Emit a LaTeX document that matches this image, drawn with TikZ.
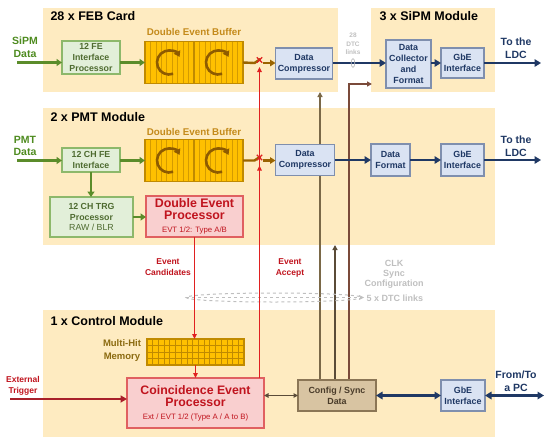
\documentclass[tikz,border=0pt]{standalone}
\usepackage{fontspec}
\setmainfont{Liberation Sans}
\usetikzlibrary{arrows.meta,calc}
\definecolor{panel}{HTML}{FEEBC1}
\definecolor{gfill}{HTML}{E2EFD9}
\definecolor{gdraw}{HTML}{8DB86B}
\definecolor{gtext}{HTML}{4E6B30}
\definecolor{glabel}{HTML}{4E8B1F}
\definecolor{garrow}{HTML}{5B8C2A}
\definecolor{bufill}{HTML}{FFC000}
\definecolor{stripec}{HTML}{D49B00}
\definecolor{budraw}{HTML}{C08A00}
\definecolor{circc}{HTML}{8E5B00}
\definecolor{buflabel}{HTML}{C48A1A}
\definecolor{bfill}{HTML}{DAE3F3}
\definecolor{bdraw}{HTML}{7F8FAE}
\definecolor{navy}{HTML}{1F3864}
\definecolor{rfill}{HTML}{F9CFCF}
\definecolor{rdraw}{HTML}{E06060}
\definecolor{rtext}{HTML}{C0141E}
\definecolor{redline}{HTML}{E02020}
\definecolor{extred}{HTML}{A8202A}
\definecolor{cfill}{HTML}{D8C4A2}
\definecolor{cdraw}{HTML}{8B7656}
\definecolor{ctext}{HTML}{4A3C2A}
\definecolor{lineA}{HTML}{7A6848}
\definecolor{lineB}{HTML}{5A4B38}
\definecolor{lineC}{HTML}{7A4A3A}
\definecolor{brownarr}{HTML}{9A6400}
\definecolor{grayt}{HTML}{BFBFBF}
\definecolor{memlabel}{HTML}{8B6A10}
\pgfdeclarelayer{bg}
\pgfdeclarelayer{mid}
\pgfsetlayers{bg,mid,main}
\tikzset{
  base/.style={draw, rectangle, inner sep=1pt, outer sep=0pt, align=center, line width=1.2pt},
  gbox/.style={base, fill=gfill, draw=gdraw, text=gtext, font=\fontsize{8.8}{10.8}\selectfont\bfseries},
  bbox/.style={base, fill=bfill, draw=bdraw, text=navy, font=\fontsize{8.9}{10.8}\selectfont\bfseries},
  rbox/.style={base, fill=rfill, draw=rdraw, text=rtext},
  cbox/.style={base, fill=cfill, draw=cdraw, text=ctext, font=\fontsize{8.9}{11}\selectfont\bfseries},
  emptybox/.style={rectangle, inner sep=0pt, outer sep=0pt},
  title/.style={anchor=base west, font=\fontsize{12.5}{14}\selectfont\bfseries},
  sidelabel/.style={align=center, font=\fontsize{10.5}{12.5}\selectfont\bfseries},
  buflab/.style={text=buflabel, font=\fontsize{9.8}{11}\selectfont\bfseries},
  grayl/.style={text=grayt, align=center, font=\fontsize{9}{10}\selectfont\bfseries},
  redlab/.style={text=rtext, align=center, font=\fontsize{8.5}{11}\selectfont\bfseries},
  garr/.style={draw=garrow, line width=2.4pt, -{Triangle[length=5.5pt,width=7pt]}},
  narr/.style={draw=navy, line width=2.6pt, -{Triangle[length=6.5pt,width=7.5pt]}},
  nbiarr/.style={draw=navy, line width=2.6pt, {Triangle[length=6.5pt,width=7.5pt]}-{Triangle[length=6.5pt,width=7.5pt]}},
  barr/.style={draw=brownarr, line width=2.4pt, -{Triangle[length=5.5pt,width=6.5pt]}},
  rarr/.style={draw=redline, line width=1.3pt, -{Triangle[length=5pt,width=4.5pt]}},
  stripe/.style={draw=stripec, line width=0.7pt},
  circarrow/.style={draw=circc, line width=2.6pt, -{Triangle[length=5.5pt,width=7pt]}},
}
\newcommand{\bufdraw}[1]{%
  \fill[bufill] (#1.south west) rectangle (#1.north east);
  \foreach \i in {1,...,17}{\draw[stripe] ($(#1.south west)+(\i*5.444,0)$) -- ($(#1.north west)+(\i*5.444,0)$);}
  \draw[draw=budraw, line width=1.5pt] (#1.south) -- (#1.north);
  \draw[draw=budraw, line width=1.2pt] (#1.south west) rectangle (#1.north east);
  \draw[circarrow] ($(#1.center)+(-25,0)$) ++(70:12) arc[start angle=70, end angle=332, radius=12];
  \draw[circarrow] ($(#1.center)+(24,0)$) ++(70:12) arc[start angle=70, end angle=332, radius=12];
}
\newcommand{\redcross}[1]{%
  \draw[redline, line width=1.1pt] ($(#1)+(-2.7,-2.7)$) -- ($(#1)+(2.7,2.7)$);
  \draw[redline, line width=1.1pt] ($(#1)+(-2.7,2.7)$) -- ($(#1)+(2.7,-2.7)$);
}
\begin{document}
\begin{tikzpicture}[x=1pt,y=-1pt]
\useasboundingbox (0,0) rectangle (550,445);
% panels
\begin{pgfonlayer}{bg}
\fill[panel] (43,8) rectangle (338,92);
\fill[panel] (371,8) rectangle (495,92);
\fill[panel] (43,108) rectangle (495,245);
\fill[panel] (43,310) rectangle (495,437);
\end{pgfonlayer}
% titles
\node[title] (t1) at (47,20.5) {28 x FEB Card};
\node[title] (t2) at (376,20.5) {3 x SiPM Module};
\node[title] (t3) at (47,121.5) {2 x PMT Module};
\node[title] (t4) at (47,325.5) {1 x Control Module};
% side labels
\node[sidelabel, text=glabel] (sipm) at (25,47) {SiPM\\Data};
\node[sidelabel, text=glabel] (pmt) at (25,146) {PMT\\Data};
\node[sidelabel, text=navy] (ldc1) at (516,48) {To the\\LDC};
\node[sidelabel, text=navy] (ldc2) at (516,146) {To the\\LDC};
\node[sidelabel, text=navy] (pc) at (516,381) {From/To\\a PC};
\node[redlab] (ext) at (23,385.5) {External\\Trigger};
% FEB card
\node[gbox, minimum width=58, minimum height=33] (fe1) at (91,57.5) {12 FE\\Interface\\Processor};
\node[emptybox, minimum width=98, minimum height=42] (buf1) at (194,62.5) {};
\bufdraw{buf1}
\node[buflab] (bl1) at (194,32) {Double Event Buffer};
\node[bbox, minimum width=57, minimum height=31] (dc1) at (304,63.5) {Data\\Compressor};
\node[bbox, minimum width=45, minimum height=48] (dcf) at (408.5,64) {Data\\Collector\\and\\Format};
\node[bbox, minimum width=43, minimum height=30] (gbe1) at (462.5,63) {GbE\\Interface};
\node[grayl, font=\fontsize{6.5}{8.7}\selectfont\bfseries] (dtc28) at (353,44) {28\\DTC\\links};
% PMT module
\node[gbox, minimum width=58, minimum height=24] (fe2) at (91,160) {12 CH FE\\Interface};
\node[emptybox, minimum width=98, minimum height=42] (buf2) at (194,160.5) {};
\bufdraw{buf2}
\node[buflab] (bl2) at (194,131.5) {Double Event Buffer};
\node[gbox, minimum width=83, minimum height=40] (trg) at (91.5,217) {12 CH TRG\\Processor\\\mdseries RAW / BLR};
\node[rbox, minimum width=97, minimum height=41] (dep) at (194.5,216.5)
  {\fontsize{12.4}{11.5}\selectfont\bfseries Double Event\\\fontsize{12.4}{11.5}\selectfont\bfseries Processor\\[1pt]\fontsize{7.8}{9}\selectfont\mdseries EVT 1/2: Type A/B};
\node[bbox, minimum width=59, minimum height=31] (dc2) at (305,160) {Data\\Compressor};
\node[bbox, minimum width=39, minimum height=32] (df) at (390.5,160) {Data\\Format};
\node[bbox, minimum width=43, minimum height=32] (gbe2) at (462.5,160) {GbE\\Interface};
% middle labels
\node[redlab] (evc) at (168,267) {Event\\Candidates};
\node[redlab] (eva) at (290,268) {Event\\Accept};
\node[grayl] (clk) at (394,274.5) {CLK\\Sync\\Configuration};
\node[grayl] (dtc5) at (395,298) {5 x DTC links};
% control module
\node[text=memlabel, align=center, font=\fontsize{9.5}{12.5}\selectfont\bfseries] (meml) at (122,350.5) {Multi-Hit\\Memory};
\node[emptybox, minimum width=97, minimum height=26] (mem) at (195.5,352) {};
\fill[bufill] (mem.south west) rectangle (mem.north east);
\foreach \i in {1,...,16}{\draw[draw=budraw, line width=0.7pt] ($(mem.south west)+(\i*5.706,0)$) -- ($(mem.north west)+(\i*5.706,0)$);}
\foreach \j in {1,2,3}{\draw[draw=budraw, line width=0.7pt] ($(mem.north west)+(0,\j*6.5)$) -- ($(mem.north east)+(0,\j*6.5)$);}
\draw[draw=budraw, line width=1.1pt] (mem.south west) rectangle (mem.north east);
\node[rbox, minimum width=137, minimum height=50] (cep) at (195.5,403)
  {\fontsize{12.3}{13}\selectfont\bfseries Coincidence Event\\\fontsize{12.3}{13}\selectfont\bfseries Processor\\[1pt]\fontsize{7.8}{9}\selectfont\mdseries Ext / EVT 1/2 (Type A / A to B)};
\node[cbox, minimum width=78, minimum height=31] (cfg) at (337,395.5) {Config / Sync\\Data};
\node[bbox, minimum width=44, minimum height=31] (gbe3) at (463,395.5) {GbE\\Interface};
% coordinates
\coordinate (in1) at (17,62.5);
\coordinate (in2) at (17,160.5);
\coordinate (out1) at (541,63);
\coordinate (out2) at (541,160);
\coordinate (out3) at (544,395.5);
\coordinate (extin) at (10,399);
\coordinate (sw1) at (259.5,63);
\coordinate (sw2) at (259.5,160.5);
\coordinate (la) at (320,92);
\coordinate (lb) at (335,245);
\coordinate (lc) at (349,84);
\coordinate (lcend) at (372,84);
% connectors FEB
\draw[garr] (in1) -- (in1 -| fe1.west);
\draw[garr] (buf1.west -| fe1.east) -- (buf1.west);
\draw[draw=brownarr, line width=2.4pt] (buf1.east) -- ($(sw1)+(-5,0)$) -- ($(sw1)+(1,-4)$);
\draw[barr] ($(sw1)+(3,0)$) -- (sw1 -| dc1.west);
\redcross{$(sw1)+(0,-3)$}
\draw[narr] (dc1.east |- gbe1.west) -- (dcf.west |- gbe1.west);
\draw[narr] (dcf.east |- gbe1.west) -- (gbe1.west);
\draw[narr] (gbe1.east) -- (out1);
\draw[draw=grayt, line width=0.7pt] (353,63) ellipse[x radius=1.8, y radius=4.5];
% connectors PMT
\draw[garr] (in2) -- (in2 -| fe2.west);
\draw[garr] (buf2.west -| fe2.east) -- (buf2.west);
\draw[garr] (fe2.south) -- (fe2.south |- trg.north);
\draw[garr] (trg.east) -- (trg.east -| dep.west);
\draw[draw=brownarr, line width=2.4pt] (buf2.east) -- ($(sw2)+(-5,0)$) -- ($(sw2)+(1,-4)$);
\draw[barr] ($(sw2)+(3,0)$) -- (sw2 -| dc2.west);
\redcross{$(sw2)+(0,-3)$}
\draw[narr] (dc2.east) -- (dc2.east -| df.west);
\draw[narr] (df.east) -- (df.east -| gbe2.west);
\draw[narr] (gbe2.east) -- (out2);
% red connectors
\draw[rarr] (dep.south) -- (dep.south |- mem.north);
\draw[rarr] (mem.south) -- (mem.south |- cep.north);
\draw[rarr] (cep.north -| sw1) -- ($(sw2)+(0,5)$);
\draw[rarr] ($(sw2)+(0,5)$) -- ($(sw1)+(0,4)$);
% control connectors
\draw[draw=extred, line width=2.6pt, -{Triangle[length=6.5pt,width=7pt]}] (extin) -- (extin -| cep.west);
\draw[draw=lineB, line width=1.3pt, {Triangle[length=4.5pt,width=4.5pt]}-{Triangle[length=4.5pt,width=4.5pt]}] (cep.east |- cfg.west) -- (cfg.west);
\draw[nbiarr] (cfg.east) -- (gbe3.west);
\draw[nbiarr] (gbe3.east) -- (out3);
% vertical sync lines
\begin{pgfonlayer}{mid}
\draw[draw=lineA, line width=1.6pt, -{Triangle[length=5pt,width=5pt]}] (la |- cfg.north) -- (la);
\draw[draw=lineB, line width=1.6pt, -{Triangle[length=5pt,width=5pt]}] (lb |- cfg.north) -- (lb);
\draw[draw=lineC, line width=1.6pt, -{Triangle[length=5pt,width=5pt]}] (lc |- cfg.north) -- (lc) -- (lcend);
\draw[draw=grayt, line width=1pt, dashed] (274,297.5) ellipse[x radius=88, y radius=4.5];
\draw[draw=grayt, line width=1pt, dashed] (186,297.5) -- (362,297.5);
\draw[draw=grayt, line width=1pt] (359,295.5) -- (363,297.5) -- (359,299.5);
\end{pgfonlayer}
\end{tikzpicture}
\end{document}
